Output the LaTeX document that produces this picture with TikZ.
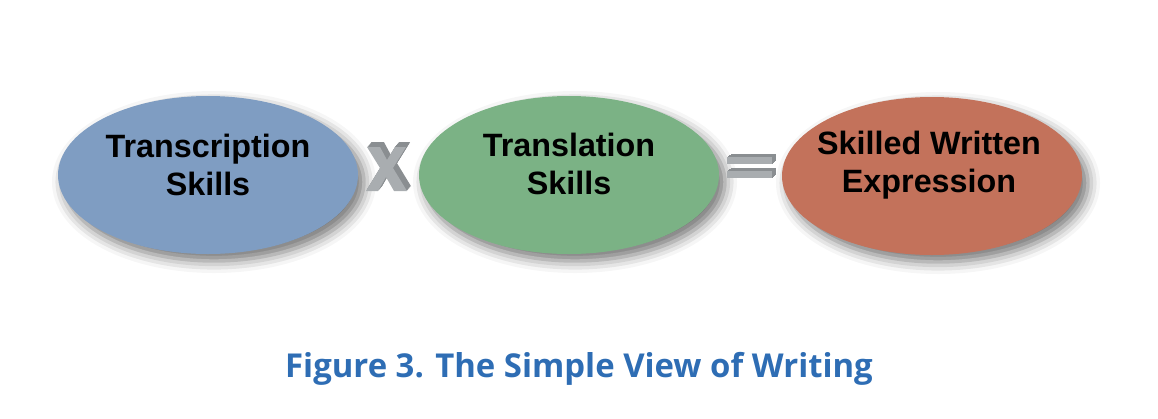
\documentclass[tikz,border=0pt]{standalone}
\usepackage{fontspec}
\setmainfont{Liberation Sans}
\newfontfamily\capfont{Open Sans}
\usetikzlibrary{shapes.geometric,shadows.blur}
\definecolor{skillblue}{HTML}{7F9DC2}
\definecolor{skillgreen}{HTML}{7BB285}
\definecolor{skillred}{HTML}{C3725B}
\definecolor{signface}{HTML}{A9ADB0}
\definecolor{signside}{HTML}{8A8E91}
\definecolor{capblue}{HTML}{2E6DB4}
\tikzset{
  skill/.style={ellipse,minimum width=300pt,minimum height=158pt,inner sep=0pt,
    blur shadow={shadow xshift=6pt,shadow yshift=-7pt,shadow blur radius=12pt,shadow opacity=55}},
  skilltext/.style={align=center,font=\bfseries\fontsize{32.3}{38.5}\selectfont,text=black}
}
\begin{document}
\begin{tikzpicture}[x=1pt,y=-1pt,line width=0.5pt]
  \useasboundingbox (0,0) rectangle (1158,418);
  % ellipses
  \node[skill,fill=skillblue] (transcription) at (208,175) {};
  \node[skill,fill=skillgreen] (translation) at (569,175) {};
  \node[skill,fill=skillred] (expression) at (932,176) {};
  \node[skilltext] (transcriptiontext) at (208,165) {Transcription\\Skills};
  \node[skilltext] (translationtext) at (569,164) {Translation\\Skills};
  \node[skilltext] (expressiontext) at (929,165) {Skilled Written\\Expression};
  % the times sign, extruded
  \foreach \d in {4,3.5,...,0.5}
    \fill[signside] (367+\d,147-1.2*\d) -- (380+\d,147-1.2*\d) -- (387+\d,160-1.2*\d) -- (395+\d,147-1.2*\d)
      -- (406+\d,147-1.2*\d) -- (393+\d,168-1.2*\d) -- (407+\d,191-1.2*\d) -- (394+\d,191-1.2*\d)
      -- (386+\d,177-1.2*\d) -- (378+\d,191-1.2*\d) -- (366+\d,191-1.2*\d) -- (380+\d,168-1.2*\d) -- cycle;
  \fill[signface] (367,147) -- (380,147) -- (387,160) -- (395,147) -- (406,147) -- (393,168)
    -- (407,191) -- (394,191) -- (386,177) -- (378,191) -- (366,191) -- (380,168) -- cycle;
  % the equals sign, extruded
  \foreach \d in {4,3.5,...,0.5} {
    \fill[signside] (727+\d,157-0.8*\d) rectangle (772+\d,164-0.8*\d);
    \fill[signside] (727+\d,171-0.8*\d) rectangle (772+\d,178-0.8*\d);
  }
  \fill[signface] (727,157) rectangle (772,164);
  \fill[signface] (727,171) rectangle (772,178);
  % caption
  \node[font=\capfont\bfseries\fontsize{32.9}{38}\selectfont,text=capblue] (caption) at (579,369) {Figure 3. The Simple View of Writing};
\end{tikzpicture}
\end{document}
